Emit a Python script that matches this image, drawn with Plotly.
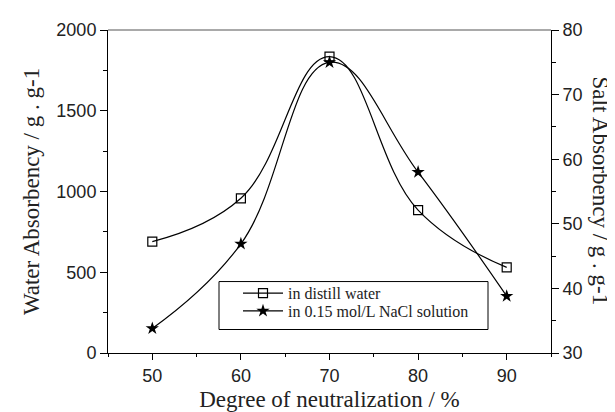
import plotly.graph_objects as go

neutralization = [50, 60, 70, 80, 90]
water_absorbency = [690, 958, 1835, 885, 530]
salt_absorbency = [33.8, 46.9, 75.0, 58.0, 38.8]

L, R, T, B = 100, 543, 19, 349
W, H = 615, 412
pw, ph = R - L, B - T


def px(xp):
    return (xp - L) / pw


def py(yp):
    return (B - yp) / ph


fig = go.Figure()
fig.add_trace(go.Scatter(
    x=neutralization, y=water_absorbency, name="in distill water",
    mode="lines+markers", line=dict(color="black", width=1.2, shape="spline", smoothing=1.2),
    marker=dict(symbol="square-open", size=9, color="black", line=dict(width=1.2)),
    yaxis="y", legend="legend"))
fig.add_trace(go.Scatter(
    x=neutralization, y=salt_absorbency, name="in 0.15 mol/L NaCl solution",
    mode="lines+markers", line=dict(color="black", width=1.2, shape="spline", smoothing=1.2),
    marker=dict(symbol="star", size=10, color="black"),
    yaxis="y2", legend="legend2"))

tickfont = dict(family="Liberation Sans, Arial", size=18, color="#222")
titlefont = dict(family="Liberation Serif, Times New Roman", size=23, color="#222")
legfont = dict(family="Liberation Serif, Times New Roman", size=16, color="#222")

leg_common = dict(xanchor="left", yanchor="middle", borderwidth=0, bgcolor="rgba(0,0,0,0)",
                  font=legfont, itemwidth=40)

fig.update_layout(
    width=W, height=H,
    margin=dict(l=L, r=W - R, t=T, b=H - B),
    plot_bgcolor="white", paper_bgcolor="white",
    showlegend=True,
    legend=dict(x=px(230), y=py(288), **leg_common),
    legend2=dict(x=px(230), y=py(306), **leg_common),
    xaxis=dict(range=[45, 95], tickvals=[50, 60, 70, 80, 90], showline=True, linecolor="black",
               linewidth=1, ticks="outside", ticklen=6, tickcolor="black", showgrid=False,
               zeroline=False, tickfont=tickfont,
               minor=dict(ticks="outside", ticklen=3, dtick=5, tick0=45, tickcolor="black"),
               title=dict(text="Degree of neutralization / %", font=titlefont, standoff=6)),
    yaxis=dict(range=[0, 2000], dtick=500, showline=True, linecolor="black", linewidth=1,
               ticks="outside", ticklen=7, tickcolor="black", showgrid=False, zeroline=False,
               tickfont=tickfont,
               minor=dict(ticks="outside", ticklen=4, dtick=250, tickcolor="black"),
               title=dict(text="Water Absorbency / g . g-1", font=titlefont, standoff=10)),
    yaxis2=dict(range=[30, 80], dtick=10, overlaying="y", side="right", showline=True,
                linecolor="black", linewidth=1, ticks="outside", ticklen=7, tickcolor="black",
                showgrid=False, zeroline=False, tickfont=tickfont,
                minor=dict(ticks="outside", ticklen=4, dtick=5, tickcolor="black")),
    shapes=[
        dict(type="line", xref="paper", yref="paper", x0=0, x1=1, y0=1, y1=1,
             line=dict(color="#555", width=1)),
        dict(type="rect", xref="paper", yref="paper", x0=px(211), x1=px(480),
             y0=py(325), y1=py(276), line=dict(color="black", width=1)),
    ],
    annotations=[dict(text="Salt Absorbency / g . g-1", textangle=90, xref="paper", yref="paper",
                      x=1, y=py(183), xanchor="center", yanchor="middle", xshift=49,
                      showarrow=False, font=titlefont)],
)

fig.write_html("out.html")
